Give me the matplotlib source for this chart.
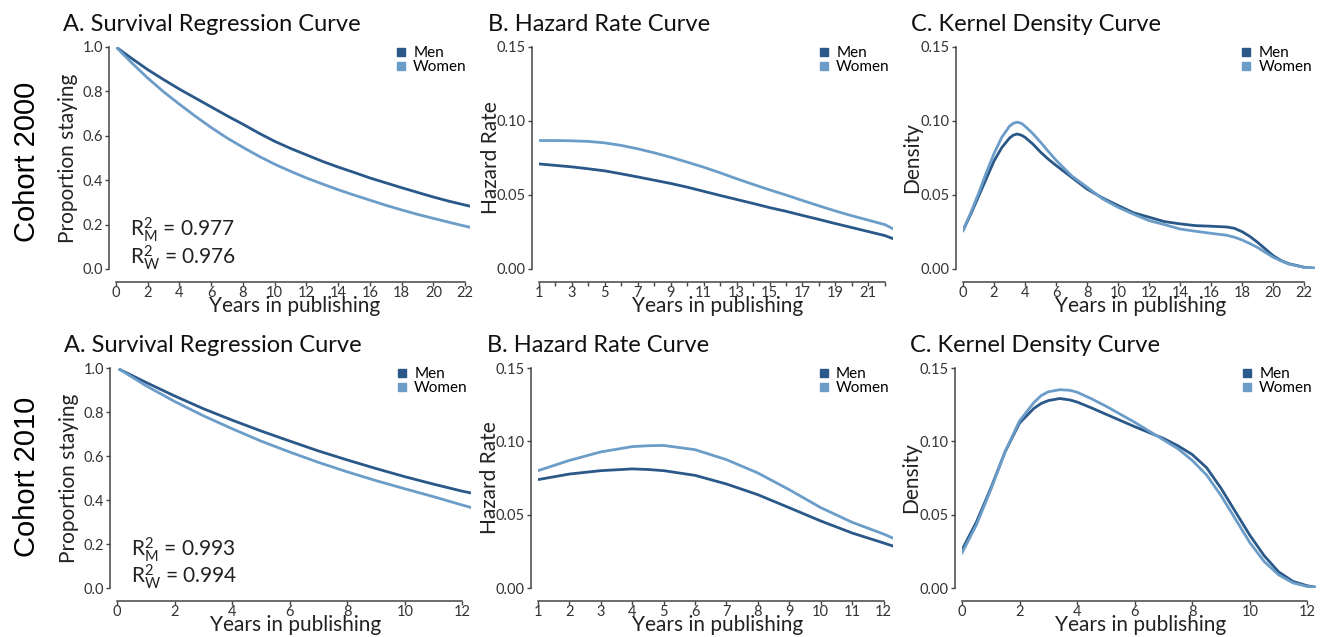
import numpy as np
import matplotlib
matplotlib.use("Agg")
import matplotlib.pyplot as plt
from matplotlib.lines import Line2D

plt.rcParams['font.family'] = ['Lato', 'DejaVu Sans']
plt.rcParams['mathtext.fontset'] = 'custom'
plt.rcParams['mathtext.rm'] = 'Lato'
plt.rcParams['mathtext.it'] = 'Lato'

MEN_COLOR = "#2a5888"
WOMEN_COLOR = "#6b9dc8"

# ---------- Cohort 2000 ----------
surv00_x = [0, 1, 2, 3, 4, 5, 6, 7, 8, 9, 10, 11, 12, 13, 14, 15, 16, 17, 18, 19, 20, 21, 22, 22.3]
surv00_men = [1.0, 0.948, 0.898, 0.853, 0.81, 0.77, 0.73, 0.69, 0.652, 0.612, 0.575, 0.543, 0.514, 0.485, 0.459, 0.435, 0.41, 0.388, 0.366, 0.345, 0.324, 0.305, 0.288, 0.283]
surv00_women = [1.0, 0.928, 0.86, 0.798, 0.742, 0.688, 0.637, 0.59, 0.548, 0.508, 0.472, 0.44, 0.41, 0.383, 0.357, 0.333, 0.31, 0.287, 0.266, 0.246, 0.228, 0.21, 0.193, 0.188]

haz00_x = [1, 2, 3, 4, 5, 6, 7, 8, 9, 10, 11, 12, 13, 14, 15, 16, 17, 18, 19, 20, 21, 22, 22.5]
haz00_men = [0.0710, 0.0700, 0.0690, 0.0677, 0.0663, 0.0643, 0.0622, 0.0600, 0.0578, 0.0553, 0.0525, 0.0497, 0.0470, 0.0443, 0.0415, 0.0390, 0.0362, 0.0335, 0.0307, 0.0280, 0.0253, 0.0226, 0.0205]
haz00_women = [0.0868, 0.0868, 0.0866, 0.0862, 0.0852, 0.0835, 0.0812, 0.0785, 0.0755, 0.0722, 0.0688, 0.0650, 0.0610, 0.0572, 0.0535, 0.0500, 0.0463, 0.0427, 0.0392, 0.0360, 0.0330, 0.0300, 0.0272]

dens00_x = [0, 0.5, 1, 1.5, 2, 2.5, 3, 3.25, 3.5, 3.75, 4, 4.5, 5, 5.5, 6, 7, 8, 9, 10, 11, 12, 13, 14, 15, 16, 17, 17.5, 18, 18.5, 19, 19.5, 20, 20.5, 21, 22, 22.7]
dens00_men = [0.026, 0.037, 0.049, 0.061, 0.073, 0.082, 0.0885, 0.0905, 0.0912, 0.0905, 0.089, 0.0845, 0.079, 0.0742, 0.070, 0.062, 0.054, 0.048, 0.0429, 0.038, 0.035, 0.032, 0.0305, 0.0293, 0.0289, 0.0284, 0.0275, 0.0252, 0.0220, 0.018, 0.0135, 0.009, 0.0058, 0.0036, 0.0012, 0.0005]
dens00_women = [0.026, 0.038, 0.051, 0.065, 0.078, 0.089, 0.0965, 0.0985, 0.0992, 0.0985, 0.0965, 0.0915, 0.0857, 0.0795, 0.0735, 0.063, 0.0553, 0.0474, 0.0417, 0.037, 0.0327, 0.030, 0.027, 0.0255, 0.0241, 0.0228, 0.0215, 0.0196, 0.0172, 0.0145, 0.0112, 0.0080, 0.0055, 0.0034, 0.0011, 0.0005]

# ---------- Cohort 2010 ----------
surv10_x = [0.1, 1, 2, 3, 4, 5, 6, 7, 8, 9, 10, 11, 12, 12.3]
surv10_men = [0.993, 0.935, 0.873, 0.815, 0.763, 0.714, 0.668, 0.623, 0.582, 0.543, 0.506, 0.472, 0.44, 0.432]
surv10_women = [0.993, 0.92, 0.848, 0.783, 0.724, 0.668, 0.618, 0.571, 0.528, 0.488, 0.451, 0.415, 0.377, 0.366]

haz10_x = [1, 2, 3, 4, 4.5, 5, 6, 7, 8, 9, 10, 11, 12, 12.3]
haz10_men = [0.0739, 0.0777, 0.0800, 0.0812, 0.0808, 0.0800, 0.0768, 0.0709, 0.0636, 0.0547, 0.0457, 0.0375, 0.0307, 0.0286]
haz10_women = [0.0800, 0.0870, 0.0928, 0.0964, 0.0970, 0.0972, 0.0943, 0.0875, 0.0784, 0.0670, 0.0548, 0.0448, 0.0368, 0.0340]

dens10_x = [0, 0.5, 1, 1.5, 2, 2.5, 2.75, 3, 3.4, 3.75, 4, 4.5, 5, 6, 7, 7.5, 8, 8.5, 9, 9.5, 10, 10.5, 11, 11.5, 12, 12.3]
dens10_men = [0.026, 0.045, 0.068, 0.093, 0.1125, 0.1225, 0.1258, 0.1278, 0.1292, 0.1282, 0.1268, 0.1228, 0.1185, 0.110, 0.102, 0.097, 0.091, 0.082, 0.068, 0.052, 0.036, 0.022, 0.011, 0.0045, 0.0015, 0.0005]
dens10_women = [0.024, 0.043, 0.067, 0.093, 0.114, 0.1265, 0.1312, 0.1338, 0.1352, 0.1348, 0.1335, 0.1290, 0.124, 0.113, 0.101, 0.095, 0.087, 0.077, 0.063, 0.047, 0.031, 0.018, 0.009, 0.0035, 0.001, 0.0004]

r2_2000 = ("0.977", "0.976")
r2_2010 = ("0.993", "0.994")

W, H = 1325, 637
fig = plt.figure(figsize=(W / 100, H / 100), dpi=100)


def make_axes(left_px, bottom_px, width_px, height_px):
    return fig.add_axes([left_px / W, (H - bottom_px) / H, width_px / W, height_px / H])


def style_axes(ax, xlim, xbounds, ylim, yticks, yfmt, xticks, xminor=None):
    ax.set_xlim(*xlim)
    ax.set_ylim(*ylim)
    for s in ("top", "right"):
        ax.spines[s].set_visible(False)
    ax.spines["left"].set_position(("outward", 5))
    ax.spines["bottom"].set_position(("outward", 9))
    ax.spines["left"].set_bounds(ylim[0], ylim[1])
    ax.spines["bottom"].set_bounds(*xbounds)
    for s in ("left", "bottom"):
        ax.spines[s].set_color("#444444")
        ax.spines[s].set_linewidth(1.1)
    ax.set_yticks(yticks)
    ax.set_yticklabels([yfmt.format(v) for v in yticks])
    ax.set_xticks(xticks)
    ax.set_xticklabels([str(v) for v in xticks])
    if xminor is not None:
        ax.set_xticks(xminor, minor=True)
    ax.tick_params(axis="both", which="both", labelsize=10.5, colors="#444444",
                   labelcolor="#333333", length=3, width=1)
    ax.tick_params(axis="x", pad=0)
    ax.tick_params(axis="y", pad=1.5)
    ax.set_xlabel("Years in publishing", fontsize=15, color="#222222", va="center")
    ax.xaxis.set_label_coords(0.505, -0.168)


def set_ylabel(ax, text, xpos):
    ax.set_ylabel(text, fontsize=15, color="#222222", va="center")
    ax.yaxis.set_label_coords(xpos, 0.5)


def add_legend(ax, x0):
    handles = [Line2D([], [], marker="s", linestyle="none", color=MEN_COLOR, markersize=6),
               Line2D([], [], marker="s", linestyle="none", color=WOMEN_COLOR, markersize=6)]
    ax.legend(handles, ["Men", "Women"], loc="upper left", bbox_to_anchor=(x0, 1.005),
              frameon=False, fontsize=11, handlelength=0.7, handletextpad=0.45,
              labelspacing=0.02, borderpad=0, borderaxespad=0)


rows = [
    dict(cohort="Cohort 2000", bottom=269, height=222, cy=162,
         surv=(surv00_x, surv00_men, surv00_women), haz=(haz00_x, haz00_men, haz00_women),
         dens=(dens00_x, dens00_men, dens00_women), r2=r2_2000,
         a=dict(left=116, width=354, xlim=(0, 22.3), xb=(0, 22), xt=list(range(0, 23, 2))),
         b=dict(left=539, width=354, xlim=(1, 22.5), xb=(1, 22), xt=list(range(1, 22, 2)),
                minor=list(range(2, 23, 2))),
         c=dict(left=963, width=352, xlim=(0, 22.7), xb=(0, 22), xt=list(range(0, 23, 2)))),
    dict(cohort="Cohort 2010", bottom=588, height=220, cy=477,
         surv=(surv10_x, surv10_men, surv10_women), haz=(haz10_x, haz10_men, haz10_women),
         dens=(dens10_x, dens10_men, dens10_women), r2=r2_2010,
         a=dict(left=117, width=354, xlim=(0, 12.3), xb=(0, 12), xt=list(range(0, 13, 2))),
         b=dict(left=538, width=355, xlim=(1, 12.3), xb=(1, 12), xt=list(range(1, 13))),
         c=dict(left=962, width=354, xlim=(0, 12.3), xb=(0, 12), xt=list(range(0, 13, 2)))),
]

for row in rows:
    fig.text(27 / W, 1 - row["cy"] / H, row["cohort"], rotation=90, fontsize=21,
             family=["Liberation Sans", "DejaVu Sans"], ha="center", va="center", color="black")

    # A. survival
    p = row["a"]
    ax = make_axes(p["left"], row["bottom"], p["width"], row["height"])
    x, m, w = row["surv"]
    ax.plot(x, m, color=MEN_COLOR, lw=2)
    ax.plot(x, w, color=WOMEN_COLOR, lw=2)
    style_axes(ax, p["xlim"], p["xb"], (0, 1), [0, 0.2, 0.4, 0.6, 0.8, 1.0], "{:.1f}", p["xt"])
    set_ylabel(ax, "Proportion staying", -0.136)
    ax.set_title("A. Survival Regression Curve", fontsize=17, loc="left", x=-0.15, y=1.035,
                 color="#111111")
    ax.text(0.04, 0.176, r"$\mathregular{R^2_M}$ = " + row["r2"][0], transform=ax.transAxes,
            fontsize=15, va="center", color="#222222")
    ax.text(0.04, 0.05, r"$\mathregular{R^2_W}$ = " + row["r2"][1], transform=ax.transAxes,
            fontsize=15, va="center", color="#222222")
    add_legend(ax, 0.79)

    # B. hazard
    p = row["b"]
    ax = make_axes(p["left"], row["bottom"], p["width"], row["height"])
    x, m, w = row["haz"]
    ax.plot(x, m, color=MEN_COLOR, lw=2)
    ax.plot(x, w, color=WOMEN_COLOR, lw=2)
    style_axes(ax, p["xlim"], p["xb"], (0, 0.15), [0, 0.05, 0.10, 0.15], "{:.2f}", p["xt"],
               p.get("minor"))
    set_ylabel(ax, "Hazard Rate", -0.135)
    ax.set_title("B. Hazard Rate Curve", fontsize=17, loc="left", x=-0.144, y=1.035,
                 color="#111111")
    add_legend(ax, 0.79)

    # C. density
    p = row["c"]
    ax = make_axes(p["left"], row["bottom"], p["width"], row["height"])
    x, m, w = row["dens"]
    ax.plot(x, m, color=MEN_COLOR, lw=2)
    ax.plot(x, w, color=WOMEN_COLOR, lw=2)
    style_axes(ax, p["xlim"], p["xb"], (0, 0.15), [0, 0.05, 0.10, 0.15], "{:.2f}", p["xt"])
    set_ylabel(ax, "Density", -0.145)
    ax.set_title("C. Kernel Density Curve", fontsize=17, loc="left", x=-0.148, y=1.035,
                 color="#111111")
    add_legend(ax, 0.79)

fig.savefig("out.png", dpi=100)
